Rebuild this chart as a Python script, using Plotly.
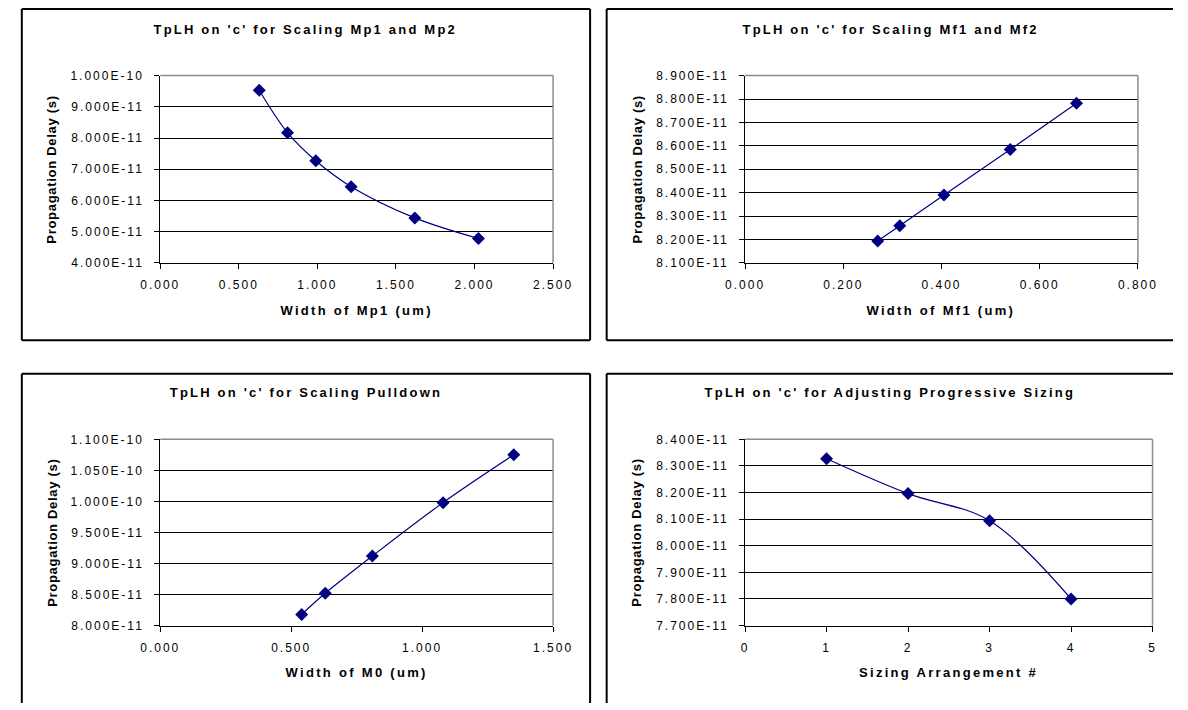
import json
import plotly.graph_objects as go

# ---- data -------------------------------------------------------------
# Panel 1: scaling Mp1 / Mp2
MP1_WIDTH = [0.630, 0.810, 0.990, 1.215, 1.620, 2.025]
MP1_DELAY = [9.53e-11, 8.17e-11, 7.27e-11, 6.44e-11, 5.44e-11, 4.78e-11]
MP1_XTICKS = [0.0, 0.5, 1.0, 1.5, 2.0, 2.5]
MP1_YTICKS = [4.0e-11, 5.0e-11, 6.0e-11, 7.0e-11, 8.0e-11, 9.0e-11, 1.0e-10]

# Panel 2: scaling Mf1 / Mf2
MF1_WIDTH = [0.270, 0.315, 0.405, 0.540, 0.675]
MF1_DELAY = [8.193e-11, 8.259e-11, 8.390e-11, 8.584e-11, 8.782e-11]
MF1_XTICKS = [0.0, 0.2, 0.4, 0.6, 0.8]
MF1_YTICKS = [8.1e-11, 8.2e-11, 8.3e-11, 8.4e-11, 8.5e-11, 8.6e-11, 8.7e-11, 8.8e-11, 8.9e-11]

# Panel 3: scaling pulldown M0
M0_WIDTH = [0.540, 0.630, 0.810, 1.080, 1.350]
M0_DELAY = [8.18e-11, 8.52e-11, 9.12e-11, 9.98e-11, 1.075e-10]
M0_XTICKS = [0.0, 0.5, 1.0, 1.5]
M0_YTICKS = [8.0e-11, 8.5e-11, 9.0e-11, 9.5e-11, 1.0e-10, 1.05e-10, 1.1e-10]

# Panel 4: progressive sizing arrangements
ARRANGEMENT = [1, 2, 3, 4]
ARR_DELAY = [8.327e-11, 8.196e-11, 8.094e-11, 7.800e-11]
ARR_XTICKS = [0, 1, 2, 3, 4, 5]
ARR_YTICKS = [7.7e-11, 7.8e-11, 7.9e-11, 8.0e-11, 8.1e-11, 8.2e-11, 8.3e-11, 8.4e-11]

TITLES = [
    "TpLH on 'c' for Scaling Mp1 and Mp2",
    "TpLH on 'c' for Scaling Mf1 and Mf2",
    "TpLH on 'c' for Scaling Pulldown",
    "TpLH on 'c' for Adjusting Progressive Sizing",
]
X_TITLES = ["Width of Mp1 (um)", "Width of Mf1 (um)", "Width of M0 (um)", "Sizing Arrangement #"]
Y_TITLE = "Propagation Delay (s)"

# ---- layout geometry (pixels) ------------------------------------------
W, H = 1188, 710
FONT = "Liberation Sans, Arial, sans-serif"
NAVY = "#000080"


def px(x):
    return x / W


def py(y):
    return 1 - y / H


# frame edges: None means the edge runs off the page and is not drawn
panels = [
    dict(x=MP1_WIDTH, y=MP1_DELAY, xt=MP1_XTICKS, yt=MP1_YTICKS, xfmt="{:.3f}",
         area=(149, 552, 70, 261), frame=(7, 590, 2, 340), title_x=298, title_y=23,
         xtitle_y=310, ytitle_x=37),
    dict(x=MF1_WIDTH, y=MF1_DELAY, xt=MF1_XTICKS, yt=MF1_YTICKS, xfmt="{:.3f}",
         area=(749, 1152, 70, 261), frame=(607, None, 2, 340), title_x=898, title_y=23,
         xtitle_y=310, ytitle_x=638),
    dict(x=M0_WIDTH, y=M0_DELAY, xt=M0_XTICKS, yt=M0_YTICKS, xfmt="{:.3f}",
         area=(149, 552, 441, 631), frame=(7, 590, 374, None), title_x=299, title_y=393,
         xtitle_y=679, ytitle_x=38),
    dict(x=ARRANGEMENT, y=ARR_DELAY, xt=ARR_XTICKS, yt=ARR_YTICKS, xfmt="{:.0f}",
         area=(749, 1167, 441, 631), frame=(607, None, 374, None), title_x=898, title_y=393,
         xtitle_y=679, ytitle_x=638),
]

fig = go.Figure()
shapes = []
annotations = []
spacings = []


def seg(xa, ya, xb, yb, color, width):
    return dict(type="line", xref="paper", yref="paper", x0=px(xa), x1=px(xb),
                y0=py(ya), y1=py(yb), line=dict(color=color, width=width), layer="above")


for i, p in enumerate(panels):
    n = "" if i == 0 else str(i + 1)
    xa, ya = "x" + n, "y" + n
    x0, x1, y0, y1 = p["area"]

    fig.add_trace(go.Scatter(
        x=p["x"], y=p["y"], xaxis=xa, yaxis=ya, mode="lines+markers",
        line=dict(color=NAVY, width=1.2, shape="spline", smoothing=1.0),
        marker=dict(symbol="diamond", size=10, color=NAVY, line=dict(width=0)),
        showlegend=False, hoverinfo="skip",
    ))

    tick_font = dict(family=FONT, size=12, color="black")
    fig.layout["xaxis" + n] = dict(
        domain=[px(x0), px(x1)], anchor=ya, range=[p["xt"][0], p["xt"][-1]],
        tickmode="array", tickvals=p["xt"], ticktext=[p["xfmt"].format(v) for v in p["xt"]],
        ticks="outside", ticklen=5, tickcolor="black", tickwidth=1,
        showline=True, linecolor="black", linewidth=1, showgrid=False, zeroline=False,
        tickfont=tick_font, ticklabelstandoff=6, fixedrange=True,
    )
    fig.layout["yaxis" + n] = dict(
        domain=[py(y1), py(y0)], anchor=xa, range=[p["yt"][0], p["yt"][-1]],
        tickmode="array", tickvals=p["yt"], ticktext=["{:.3E}".format(v) for v in p["yt"]],
        ticks="outside", ticklen=5, tickcolor="black", tickwidth=1,
        showline=True, linecolor="black", linewidth=1,
        showgrid=True, gridcolor="black", gridwidth=1, zeroline=False,
        tickfont=tick_font, ticklabelstandoff=8, fixedrange=True,
    )

    # grey top and right edges of the plot area
    shapes.append(seg(x0, y0, x1, y0, "#8c8c8c", 1.5))
    shapes.append(seg(x1, y0, x1, y1, "#8c8c8c", 1.5))

    # chart frame, kept inside the page
    fx0, fx1, fy0, fy1 = p["frame"]
    right = W if fx1 is None else fx1
    bottom = H if fy1 is None else fy1
    shapes.append(seg(fx0, fy0, right, fy0, "black", 2))
    shapes.append(seg(fx0, fy0, fx0, bottom, "black", 2))
    if fx1 is not None:
        shapes.append(seg(fx1, fy0, fx1, bottom, "black", 2))
    if fy1 is not None:
        shapes.append(seg(fx0, fy1, right, fy1, "black", 2))

    # chart title
    annotations.append(dict(text="<b>%s</b>" % TITLES[i], xref="paper", yref="paper",
                            x=px(p["title_x"]), y=py(p["title_y"]),
                            xanchor="center", yanchor="middle", showarrow=False,
                            font=dict(family=FONT, size=13, color="black")))
    spacings.append(2.2)
    # x-axis title
    annotations.append(dict(text="<b>%s</b>" % X_TITLES[i], xref="paper", yref="paper",
                            x=px((x0 + x1) / 2), y=py(p["xtitle_y"]),
                            xanchor="center", yanchor="middle", showarrow=False,
                            font=dict(family=FONT, size=13, color="black")))
    spacings.append(2.3)
    # y-axis title
    annotations.append(dict(text="<b>%s</b>" % Y_TITLE, xref="paper", yref="paper",
                            x=px(p["ytitle_x"]), y=py((y0 + y1) / 2), textangle=-90,
                            xanchor="center", yanchor="middle", showarrow=False,
                            font=dict(family=FONT, size=13, color="black")))
    spacings.append(0.7)

fig.update_layout(
    width=W, height=H, margin=dict(l=0, r=0, t=0, b=0),
    paper_bgcolor="white", plot_bgcolor="white",
    shapes=shapes, annotations=annotations, showlegend=False,
)

# wide Excel-style text spacing on the rendered SVG text
post = """
var gd = document.getElementById('{plot_id}');
var sp = %s;
gd.querySelectorAll('g.annotation').forEach(function(g) {
  var k = parseInt(g.getAttribute('data-index'));
  g.querySelectorAll('text').forEach(function(t) { t.style.letterSpacing = sp[k] + 'px'; });
});
gd.querySelectorAll('.xaxislayer-above text, .yaxislayer-above text').forEach(function(t) {
  t.style.letterSpacing = '2px';
});
""" % json.dumps(spacings)

fig.write_html("out.html", config={"displayModeBar": False, "staticPlot": True}, post_script=post)
